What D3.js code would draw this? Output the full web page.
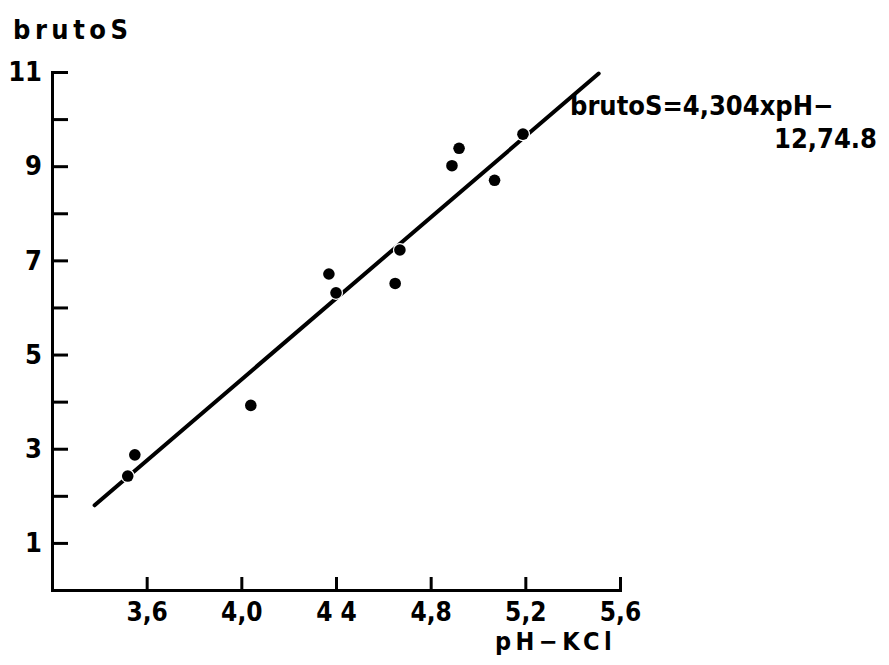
<!DOCTYPE html>
<html>
<head>
<meta charset="utf-8">
<script src="https://cdn.jsdelivr.net/npm/d3@7"></script>
<style>
  html, body { margin: 0; padding: 0; background: #fff; }
  svg { display: block; }
  text { font-family: "DejaVu Sans Condensed", "DejaVu Sans", sans-serif; font-weight: bold; fill: #000; }
</style>
</head>
<body>
<svg id="chart" width="889" height="665"></svg>
<script>
// Soil samples: pH (KCl) against brutoS
const phValues     = [5.19, 4.92, 4.89, 5.07, 4.67, 4.37, 4.40, 4.65, 4.04, 3.55, 3.52];
const brutoSValues = [9.68, 9.38, 9.01, 8.70, 7.22, 6.71, 6.31, 6.51, 3.92, 2.87, 2.42];

// Fitted line brutoS = slope * pH + intercept, drawn over this pH range
const fitSlope = 4.304;
const fitIntercept = -12.748;
const fitRange = [3.38, 5.51];

// Axis ticks and labels
const xTickValues = [3.6, 4.0, 4.4, 4.8, 5.2, 5.6];
const xTickLabels = ["3,6", "4,0", "4 4", "4,8", "5,2", "5,6"];
const yTickValues = [1, 2, 3, 4, 5, 6, 7, 8, 9, 10, 11];
const yTickLabels = ["1", "", "3", "", "5", "", "7", "", "9", "", "11"];

const yTitle = "brutoS";
const xTitle = "pH\u2212KCl";
const equationLines = ["brutoS=4,304xpH\u2212", "12,74.8"];

const svg = d3.select("#chart");

const x = d3.scaleLinear().domain([3.2, 5.6]).range([52, 620]);
const y = d3.scaleLinear().domain([0, 11]).range([590, 72]);

// y axis: ticks point into the plot, odd values labelled
const yAxis = d3.axisLeft(y)
  .tickValues(yTickValues)
  .tickFormat((d, i) => yTickLabels[i])
  .tickSizeInner(-16)
  .tickSizeOuter(0)
  .tickPadding(10);

const gy = svg.append("g").attr("transform", "translate(52,0)").call(yAxis);
gy.selectAll("text").style("font-size", "27px").style("font-family", null);

// x axis: ticks point up into the plot
const xAxis = d3.axisBottom(x)
  .tickValues(xTickValues)
  .tickFormat((d, i) => xTickLabels[i])
  .tickSizeInner(-13)
  .tickSizeOuter(0)
  .tickPadding(13);

const gx = svg.append("g").attr("transform", "translate(0,590)").call(xAxis);
gx.selectAll("text").style("font-size", "26px").style("font-family", null);

[gx, gy].forEach(g => {
  g.select(".domain").attr("stroke", "#000").attr("stroke-width", 3).attr("stroke-linecap", "square");
  g.selectAll(".tick line").attr("stroke", "#000").attr("stroke-width", 3);
  g.attr("font-family", null).attr("font-size", null);
});

// Regression line
const line = d3.line().x(d => x(d)).y(d => y(fitSlope * d + fitIntercept));
svg.append("path")
  .datum(fitRange)
  .attr("d", line)
  .attr("fill", "none")
  .attr("stroke", "#000")
  .attr("stroke-width", 4)
  .attr("stroke-linecap", "round");

// Sample points, with a thin white ring so the line breaks around them
svg.append("g").selectAll("circle")
  .data(phValues.map((p, i) => [p, brutoSValues[i]]))
  .join("circle")
  .attr("cx", d => x(d[0]))
  .attr("cy", d => y(d[1]))
  .attr("r", 5.8)
  .attr("fill", "#000")
  .attr("stroke", "#fff")
  .attr("stroke-width", 2.5)
  .style("paint-order", "stroke");

// Titles
svg.append("text")
  .attr("x", 13).attr("y", 39)
  .style("font-size", "27px")
  .style("letter-spacing", "4.5px")
  .text(yTitle);

svg.append("text")
  .attr("x", 495).attr("y", 650)
  .style("font-size", "25px")
  .style("letter-spacing", "4.5px")
  .text(xTitle);

// Equation of the fitted line
svg.append("text")
  .attr("x", 570).attr("y", 115)
  .style("font-size", "27px")
  .text(equationLines[0]);

svg.append("text")
  .attr("x", 877).attr("y", 148)
  .attr("text-anchor", "end")
  .style("font-size", "27px")
  .text(equationLines[1]);
</script>
</body>
</html>
